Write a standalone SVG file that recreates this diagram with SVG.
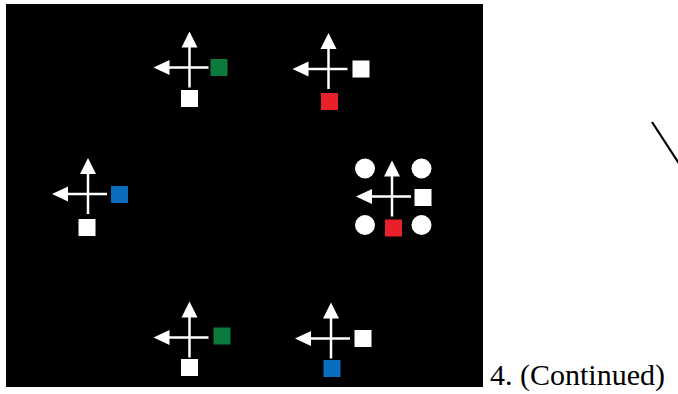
<svg xmlns="http://www.w3.org/2000/svg" width="678" height="394" viewBox="0 0 678 394">
  <style>
    .panel { fill: #000000; }
    .axis { stroke: #ffffff; stroke-width: 2.5; fill: none; }
    .head { fill: #ffffff; }
    .sq-white { fill: #ffffff; }
    .sq-green { fill: #0b7a3c; }
    .sq-red { fill: #e8202a; }
    .sq-blue { fill: #0a6cbc; }
    .dot { fill: #ffffff; }
    .caption { font-family: "Liberation Serif", "Times New Roman", serif; font-size: 30px; fill: #000000; }
    .stroke { stroke: #000000; stroke-width: 2.2; }
  </style>
  <defs>
    <!-- cross of two arrows, origin at the crossing point -->
    <g id="cross">
      <line class="axis" x1="0" y1="-22" x2="0" y2="20"/>
      <line class="axis" x1="-22" y1="0" x2="19" y2="0"/>
      <polygon class="head" points="0,-36 -8,-20 8,-20"/>
      <polygon class="head" points="-36,0 -20,-7.5 -20,7.5"/>
    </g>
  </defs>

  <rect class="panel" x="6" y="4" width="477" height="383"/>

  <g id="node-top-left">
    <use href="#cross" x="189.5" y="67.5"/>
    <rect class="sq-green" x="210.5" y="59" width="17" height="17"/>
    <rect class="sq-white" x="181" y="90" width="17" height="17"/>
  </g>

  <g id="node-top-right">
    <use href="#cross" x="328.5" y="69"/>
    <rect class="sq-white" x="352.5" y="60.5" width="17" height="17"/>
    <rect class="sq-red" x="321" y="93" width="17" height="17"/>
  </g>

  <g id="node-left">
    <use href="#cross" x="88" y="194"/>
    <rect class="sq-blue" x="111" y="186" width="17" height="17"/>
    <rect class="sq-white" x="78.5" y="219" width="17" height="17"/>
  </g>

  <g id="node-right">
    <circle class="dot" cx="365" cy="168.5" r="10"/>
    <circle class="dot" cx="421.5" cy="168.5" r="10"/>
    <circle class="dot" cx="365" cy="225" r="10"/>
    <circle class="dot" cx="421.5" cy="225" r="10"/>
    <use href="#cross" x="392" y="196.5"/>
    <rect class="sq-white" x="414.5" y="189" width="17" height="17"/>
    <rect class="sq-red" x="385" y="219.5" width="17" height="17"/>
  </g>

  <g id="node-bottom-left">
    <use href="#cross" x="189.5" y="337.5"/>
    <rect class="sq-green" x="213.5" y="327.5" width="17" height="17"/>
    <rect class="sq-white" x="181" y="359" width="17" height="17"/>
  </g>

  <g id="node-bottom-right">
    <use href="#cross" x="331" y="338.5"/>
    <rect class="sq-white" x="354.5" y="330" width="17" height="17"/>
    <rect class="sq-blue" x="323.5" y="360" width="17" height="17"/>
  </g>

  <g id="connectors">
    <line class="stroke" x1="652" y1="122" x2="680" y2="165"/>
  </g>

  <text class="caption" x="490" y="385">4. (Continued)</text>
</svg>
